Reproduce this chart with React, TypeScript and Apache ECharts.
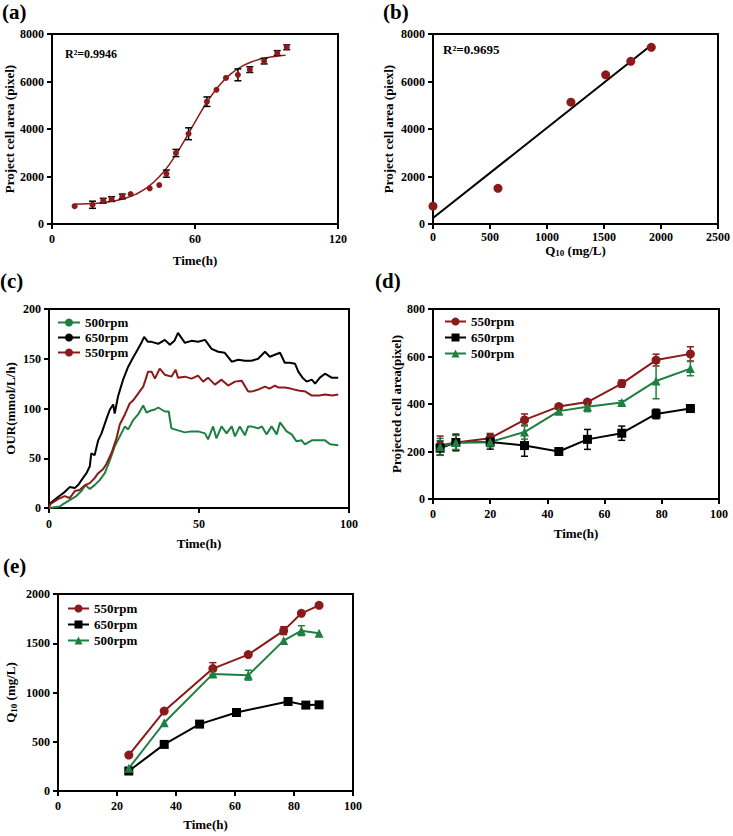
import React, { useEffect, useRef } from "react";
import * as echarts from "echarts";

const RED = "#8B1A1A";
const GREEN = "#1E8040";
const BLACK = "#000000";
const FONT = '"Liberation Serif","Times New Roman",serif';

// ---------- (a) ----------
const aTime = [9.5, 17, 21.5, 25, 29.5, 33, 41, 45, 48, 52, 57.3, 65, 69, 73, 78, 83, 89, 94.5, 98.5];
const aArea = [750, 810, 980, 1050, 1160, 1260, 1500, 1640, 2120, 2990, 3800, 5150, 5650, 6150, 6280, 6500, 6860, 7200, 7440];
const aErr = [0, 150, 100, 100, 100, 0, 0, 0, 150, 150, 250, 200, 0, 0, 250, 120, 120, 100, 100];
const aFitTime = [9.5, 15, 20, 25, 30, 35, 40, 45, 50, 55, 60, 65, 70, 75, 80, 85, 90, 95, 98];
const aFitArea = [828, 852, 889, 954, 1064, 1246, 1539, 1985, 2616, 3412, 4291, 5125, 5814, 6318, 6655, 6868, 6997, 7074, 7103];

// ---------- (b) ----------
const bQ10 = [0, 570, 1210, 1515, 1735, 1915];
const bArea = [750, 1500, 5130, 6280, 6850, 7440];
const bFitQ10 = [0, 1900];
const bFitArea = [250, 7470];

// ---------- (c) OUR ----------
const c650: number[][] = [[0,2],[0.5,5],[3,11],[5.2,16],[6.9,21],[8.6,20],[9.7,23],[11.3,30],[12.5,35],[13.6,42],[14.1,55],[15.2,53],[16.4,68],[17.5,75],[19.1,89],[20.3,99],[21.4,104],[21.9,95],[23,112],[24.7,129],[26.4,142],[28,151],[29.7,160],[30.8,166],[31.7,172],[33,167],[34.2,167],[36.4,165],[38.6,169],[40.3,164],[41.8,168],[43,176],[45.3,166],[47.5,168],[49.7,167],[52,169],[54.2,160],[56.4,157],[58.6,156],[60.9,147],[63.1,149],[65.3,148],[67.5,148],[69.7,150],[72,157],[73.6,152],[75.3,154],[77,156],[78.6,146],[80.3,146],[82,145],[83.1,137],[84.5,131],[85.9,127],[87.6,129],[88.7,125],[90.3,131],[92,135],[94.2,131],[96.4,131]];
const c550: number[][] = [[0,1],[0.5,4],[3,9],[5.2,12],[6.9,10],[8.6,17],[10.2,18],[12,23],[13.6,25],[15.2,30],[16.4,35],[18,39],[19.1,44],[20.8,55],[22.5,70],[23.6,84],[25.3,94],[26.9,105],[28,108],[29.7,115],[31.4,122],[32.3,130],[33,137],[34.2,137],[35.3,130],[36.9,140],[38.6,134],[40.8,132],[42.2,139],[43,131],[45.3,132],[47.5,130],[49.7,133],[51.4,127],[53,131],[55.3,124],[57.5,129],[59.7,123],[62,127],[64.2,128],[66.4,117],[67.5,117],[69.7,119],[72,122],[73.5,120],[75.3,123],[76.5,121],[78.6,121],[80.5,120],[83.1,118],[85.5,117],[87.6,113],[90,113],[92,114],[94.5,113],[96.4,114]];
const c500: number[][] = [[0,0],[3.6,1.5],[4.7,4],[6.9,8],[9.1,12],[10.8,17],[12.1,23],[13.6,19],[15.2,23],[16.9,28],[18.6,35],[20.3,48],[21.9,62],[23.6,72],[25.3,82],[26.4,79],[28,88],[29.7,94],[31.4,103],[32.5,96],[34,98],[35.3,99],[36.4,101],[38.6,97],[39.9,97],[40.8,80],[43,78],[45.3,76],[47.5,77],[49.7,77],[52,75],[53,69],[54.7,82],[55.8,70],[57.5,82],[59.2,75],[60.9,82],[62,72],[63.6,82],[65.3,73],[66.4,82],[67.5,82],[69.7,80],[71,82],[72.5,74],[74.2,82],[75.9,74],[77,86],[79.2,77],[80.9,74],[82.5,67],[84.2,68],[85.3,64],[87.6,68],[90,68],[92,68],[93.7,64],[96.4,63]];

// ---------- (d) ----------
const dTime = [2.5, 8, 20, 32, 44, 54, 66, 78, 90];
const d550 = [225, 238, 256, 333, 389, 408, 486, 585, 611];
const d550Err = [40, 30, 20, 25, 10, 10, 15, 25, 30];
const d650 = [214, 238, 240, 225, 200, 251, 277, 358, 381];
const d650Err = [30, 35, 30, 45, 8, 42, 30, 20, 8];
const d500 = [220, 238, 240, 282, 370, 388, 406, 497, 549];
const d500Err = [35, 30, 20, 30, 10, 20, 8, 75, 30];

// ---------- (e) ----------
const e550Time = [24, 36, 52.5, 64.5, 76.5, 82.5, 88.5];
const e550 = [365, 811, 1243, 1385, 1628, 1804, 1885];
const e550Err = [0, 0, 60, 0, 40, 0, 0];
const e650Time = [24, 36, 48, 60.5, 78, 84, 88.5];
const e650 = [203, 473, 679, 797, 909, 872, 875];
const e650Err = [0, 0, 0, 0, 30, 0, 0];
const e500Time = [24, 36, 52.5, 64.5, 76.5, 82.5, 88.5];
const e500 = [230, 693, 1189, 1176, 1527, 1628, 1601];
const e500Err = [0, 0, 30, 50, 0, 50, 0];

const legendNames: Record<string, string> = {
  c500: "500rpm", c650: "650rpm", c550: "550rpm",
  d550: "550rpm", d650: "650rpm", d500: "500rpm",
  e550: "550rpm", e650: "650rpm", e500: "500rpm",
};

const zip = (xs: number[], ys: number[]) => xs.map((x, i) => [x, ys[i]]);

function axis(gridIndex: number, min: number, max: number, interval: number, name: string, nameGap: number, labelMargin: number, rich?: any) {
  return {
    type: "value",
    gridIndex, min, max, interval, name,
    nameLocation: "middle",
    nameGap,
    nameTextStyle: { fontFamily: FONT, fontWeight: "bold", fontSize: 13, color: "#000", rich },
    axisLine: { show: true, onZero: false, lineStyle: { color: "#000", width: 2 } },
    axisTick: { show: true, length: 5, lineStyle: { color: "#000", width: 2 } },
    axisLabel: {
      fontFamily: FONT, fontWeight: "bold", fontSize: 12, color: "#000", margin: labelMargin,
      formatter: (v: number) => String(v),
    },
    splitLine: { show: false },
  };
}

function errSeries(id: string, gi: number, xs: number[], ys: number[], es: number[], color: string, z: number) {
  return {
    type: "custom",
    name: id,
    xAxisIndex: gi,
    yAxisIndex: gi,
    silent: true,
    z,
    encode: { x: 0, y: 1 },
    data: xs.map((x, i) => [x, ys[i], es[i]]),
    renderItem: (_p: any, api: any) => {
      const x = api.value(0), y = api.value(1), e = api.value(2);
      if (!e) return { type: "group", children: [] };
      const t = api.coord([x, y + e]);
      const b = api.coord([x, y - e]);
      const w = 3.5;
      const st = { stroke: color, lineWidth: 1.5 };
      return {
        type: "group",
        children: [
          { type: "line", shape: { x1: t[0], y1: t[1], x2: b[0], y2: b[1] }, style: st },
          { type: "line", shape: { x1: t[0] - w, y1: t[1], x2: t[0] + w, y2: t[1] }, style: st },
          { type: "line", shape: { x1: b[0] - w, y1: b[1], x2: b[0] + w, y2: b[1] }, style: st },
        ],
      };
    },
  };
}

function markerLine(id: string, gi: number, data: number[][], color: string, symbol: string, size: number, z: number) {
  return {
    type: "line",
    name: id,
    xAxisIndex: gi,
    yAxisIndex: gi,
    data,
    symbol,
    symbolSize: size,
    z,
    itemStyle: { color, borderWidth: 0, opacity: 1 },
    lineStyle: { color, width: 2 },
  };
}

const subRich = {
  sub: { fontFamily: FONT, fontWeight: "bold", fontSize: 9, padding: [6, 0, 0, 0], color: "#000" },
};

function buildOption() {
  const gridBase = { show: true, borderColor: "#000", borderWidth: 2, backgroundColor: "transparent", containLabel: false };
  const legendText = { fontFamily: FONT, fontWeight: "bold", fontSize: 13, color: "#000" };
  const panelText = (t: string, left: number, top: number) => ({
    type: "text", left, top, style: { text: t, fontFamily: FONT, fontWeight: "bold", fontSize: 21, fill: "#000" },
  });
  return {
    animation: false,
    backgroundColor: "#fff",
    grid: [
      { ...gridBase, left: 52, top: 34, width: 286, height: 190 },
      { ...gridBase, left: 433, top: 34, width: 286, height: 190 },
      { ...gridBase, left: 49, top: 309, width: 300, height: 199 },
      { ...gridBase, left: 433, top: 309, width: 286, height: 190 },
      { ...gridBase, left: 58, top: 594, width: 295, height: 197 },
    ],
    xAxis: [
      axis(0, 0, 120, 60, "Time(h)", 30, 9),
      axis(1, 0, 2500, 500, "Q{sub|10} (mg/L)", 17, 7, subRich),
      axis(2, 0, 100, 50, "Time(h)", 29, 10),
      axis(3, 0, 100, 20, "Time(h)", 28, 9),
      axis(4, 0, 100, 20, "Time(h)", 27, 9),
    ],
    yAxis: [
      axis(0, 0, 8000, 2000, "Project cell area (pixel)", 36, 8),
      axis(1, 0, 8000, 2000, "Project cell area (piexl)", 38, 8),
      axis(2, 0, 200, 50, "OUR(mmol/L/h)", 32, 8),
      axis(3, 0, 800, 200, "Projected cell area(pixel)", 30, 8),
      axis(4, 0, 2000, 500, "Q{sub|10} (mg/L)", 40, 8, subRich),
    ],
    legend: [
      {
        data: ["c500", "c650", "c550"], orient: "vertical", left: 52, top: 311, itemGap: 2,
        itemWidth: 22, itemHeight: 10, formatter: (n: string) => legendNames[n], textStyle: legendText,
      },
      {
        data: ["d550", "d650", "d500"], orient: "vertical", left: 439, top: 310, itemGap: 3,
        itemWidth: 21, itemHeight: 10, formatter: (n: string) => legendNames[n], textStyle: legendText,
      },
      {
        data: ["e550", "e650", "e500"], orient: "vertical", left: 62, top: 597, itemGap: 3,
        itemWidth: 21, itemHeight: 10, formatter: (n: string) => legendNames[n], textStyle: legendText,
      },
    ],
    graphic: [
      panelText("(a)", 2, 1),
      panelText("(b)", 383, 1),
      panelText("(c)", 0, 270),
      panelText("(d)", 375, 270),
      panelText("(e)", 3, 555),
      { type: "text", left: 65, top: 48, style: { text: "R²=0.9946", fontFamily: FONT, fontWeight: "bold", fontSize: 12, fill: "#000" } },
      { type: "text", left: 443, top: 43, style: { text: "R²=0.9695", fontFamily: FONT, fontWeight: "bold", fontSize: 13, fill: "#000" } },
    ],
    series: [
      // (a)
      {
        type: "line", name: "fitA", xAxisIndex: 0, yAxisIndex: 0, data: zip(aFitTime, aFitArea),
        smooth: true, symbol: "none", lineStyle: { color: RED, width: 1.5 }, z: 1,
      },
      errSeries("errA", 0, aTime, aArea, aErr, BLACK, 2),
      {
        type: "scatter", name: "ptsA", xAxisIndex: 0, yAxisIndex: 0, data: zip(aTime, aArea),
        symbolSize: 6, itemStyle: { color: RED, opacity: 1 }, z: 3,
      },
      // (b)
      {
        type: "line", name: "fitB", xAxisIndex: 1, yAxisIndex: 1, data: zip(bFitQ10, bFitArea),
        symbol: "none", lineStyle: { color: BLACK, width: 2 }, z: 1,
      },
      {
        type: "scatter", name: "ptsB", xAxisIndex: 1, yAxisIndex: 1, data: zip(bQ10, bArea),
        symbolSize: 9, itemStyle: { color: RED, opacity: 1 }, z: 3,
      },
      // (c)
      { type: "line", name: "c500", xAxisIndex: 2, yAxisIndex: 2, data: c500, symbol: "none", lineStyle: { color: GREEN, width: 2 }, itemStyle: { color: GREEN } },
      { type: "line", name: "c650", xAxisIndex: 2, yAxisIndex: 2, data: c650, symbol: "none", lineStyle: { color: BLACK, width: 2 }, itemStyle: { color: BLACK } },
      { type: "line", name: "c550", xAxisIndex: 2, yAxisIndex: 2, data: c550, symbol: "none", lineStyle: { color: RED, width: 2 }, itemStyle: { color: RED } },
      // (d)
      errSeries("errD550", 3, dTime, d550, d550Err, RED, 2),
      errSeries("errD650", 3, dTime, d650, d650Err, BLACK, 2),
      errSeries("errD500", 3, dTime, d500, d500Err, GREEN, 2),
      markerLine("d550", 3, zip(dTime, d550), RED, "circle", 9, 3),
      markerLine("d650", 3, zip(dTime, d650), BLACK, "rect", 9, 3),
      markerLine("d500", 3, zip(dTime, d500), GREEN, "triangle", 9, 3),
      // (e)
      errSeries("errE550", 4, e550Time, e550, e550Err, RED, 2),
      errSeries("errE650", 4, e650Time, e650, e650Err, BLACK, 2),
      errSeries("errE500", 4, e500Time, e500, e500Err, GREEN, 2),
      markerLine("e550", 4, zip(e550Time, e550), RED, "circle", 9, 3),
      markerLine("e650", 4, zip(e650Time, e650), BLACK, "rect", 9, 3),
      markerLine("e500", 4, zip(e500Time, e500), GREEN, "triangle", 9, 3),
    ],
  };
}

export default function App() {
  const ref = useRef<HTMLDivElement>(null);
  useEffect(() => {
    if (!ref.current) return;
    const chart = echarts.init(ref.current, null, { renderer: "svg" });
    chart.setOption(buildOption() as any);
    return () => chart.dispose();
  }, []);
  return (
    <div
      ref={ref}
      style={{ position: "absolute", left: 0, top: 0, width: 733, height: 836, background: "#fff" }}
    />
  );
}
